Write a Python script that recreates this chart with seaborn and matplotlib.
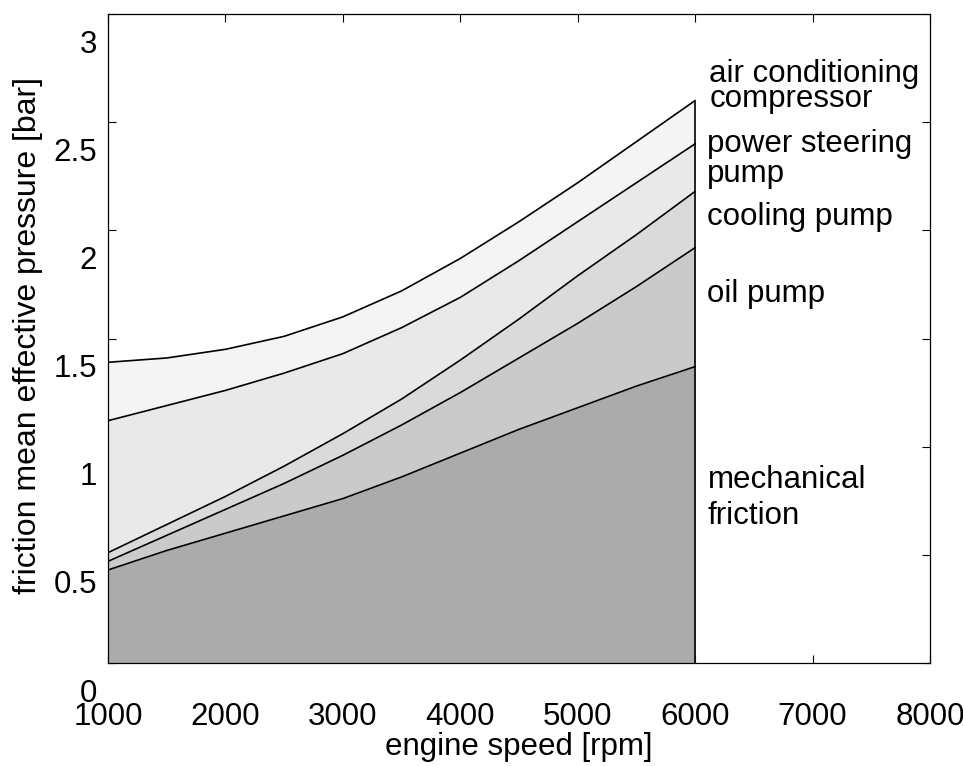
import numpy as np
import pandas as pd
import matplotlib
matplotlib.use("Agg")
import matplotlib.pyplot as plt
import matplotlib.transforms as mtransforms
import seaborn as sns

# ---- data ----
rpm = [1000, 1500, 2000, 2500, 3000, 3500, 4000, 4500, 5000, 5500, 6000]
mechanical_friction = [0.43, 0.52, 0.60, 0.68, 0.76, 0.86, 0.97, 1.08, 1.18, 1.28, 1.37]
oil_pump_top = [0.47, 0.59, 0.71, 0.83, 0.96, 1.10, 1.25, 1.41, 1.57, 1.74, 1.92]
cooling_pump_top = [0.51, 0.64, 0.77, 0.91, 1.06, 1.22, 1.40, 1.59, 1.79, 1.98, 2.18]
power_steering_top = [1.12, 1.19, 1.26, 1.34, 1.43, 1.55, 1.69, 1.86, 2.04, 2.22, 2.40]
air_conditioning_top = [1.39, 1.41, 1.45, 1.51, 1.60, 1.72, 1.87, 2.04, 2.22, 2.41, 2.60]

series_names = ["mechanical friction", "oil pump", "cooling pump",
                "power steering pump", "air conditioning compressor"]
series_tops = [mechanical_friction, oil_pump_top, cooling_pump_top,
               power_steering_top, air_conditioning_top]
fill_colors = ["#ababab", "#cacaca", "#dadada", "#e9e9e9", "#f4f4f4"]

x_ticks = [1000, 2000, 3000, 4000, 5000, 6000, 7000, 8000]
y_ticks = [0, 0.5, 1, 1.5, 2, 2.5, 3]
y_tick_labels = ["0", "0.5", "1", "1.5", "2", "2.5", "3"]

# text labels: (text, x, baseline y of last line, line spacing)
labels = [
    ("air conditioning\ncompressor", 6120, 2.572, 0.76),
    ("power steering", 6100, 2.362, 1.0),
    ("pump", 6100, 2.224, 1.0),
    ("cooling pump", 6100, 2.025, 1.0),
    ("oil pump", 6100, 1.669, 1.0),
    ("mechanical", 6105, 0.809, 1.0),
    ("friction", 6105, 0.643, 1.0),
]

# ---- plotting ----
sns.set_theme(style="ticks")
plt.rcParams["font.family"] = ["Liberation Sans", "DejaVu Sans"]
FS = 22.5

fig = plt.figure(figsize=(9.63, 7.66), dpi=100)
ax = fig.add_axes([108 / 963, 1 - 663 / 766, (930 - 108) / 963, (663 - 14) / 766])

lower = np.zeros(len(rpm))
for top, col in zip(series_tops, fill_colors):
    ax.fill_between(rpm, lower, top, color=col, linewidth=0, zorder=2.6)
    lower = np.asarray(top)

long = pd.DataFrame({
    "rpm": rpm * len(series_tops),
    "fmep": np.concatenate(series_tops),
    "series": np.repeat(series_names, len(rpm)),
})
sns.lineplot(data=long, x="rpm", y="fmep", hue="series",
             palette=["black"] * len(series_names), linewidth=1.2,
             legend=False, ax=ax, zorder=3, sort=False)
ax.vlines(rpm[-1], 0, air_conditioning_top[-1], color="black", linewidth=1.2, zorder=3)

for txt, x, y, ls in labels:
    ax.text(x, y, txt, fontsize=FS, va="baseline", ha="left", color="black",
            linespacing=ls)

ax.set_xlim(1000, 8000)
ax.set_ylim(0, 3)
ax.set_xticks(x_ticks)
ax.set_xticklabels([str(v) for v in x_ticks])
ax.set_yticks(y_ticks)
ax.set_yticklabels(y_tick_labels)
ax.tick_params(axis="both", direction="in", length=6, width=0.8, color="black",
               labelsize=FS, labelcolor="black", top=True, right=True)
ax.tick_params(axis="x", pad=28)
ax.tick_params(axis="y", pad=8)

offset = mtransforms.ScaledTranslation(0, -0.27, fig.dpi_scale_trans)
for lab in ax.get_yticklabels():
    lab.set_transform(lab.get_transform() + offset)

for sp in ax.spines.values():
    sp.set_linewidth(0.9)
    sp.set_color("black")
    sp.set_zorder(4)

ax.set_xlabel("engine speed [rpm]", fontsize=FS, color="black")
ax.set_ylabel("friction mean effective pressure [bar]", fontsize=FS + 0.5, color="black")
ax.xaxis.set_label_coords(0.5, -0.106)
ax.yaxis.set_label_coords(-0.079, 0.504)

fig.savefig("out.png", dpi=100, facecolor="white")
